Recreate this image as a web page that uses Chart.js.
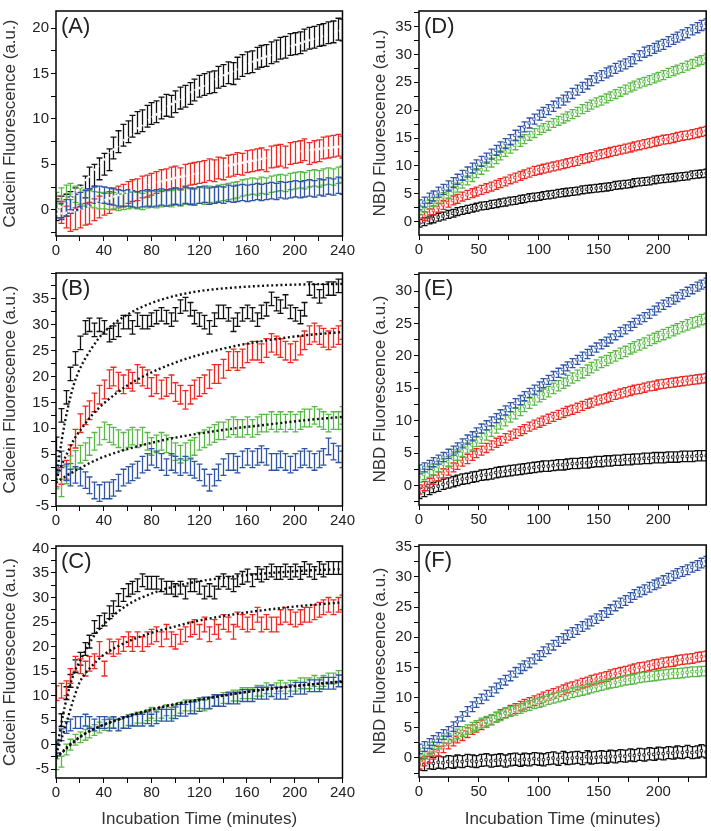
<!DOCTYPE html>
<html>
<head>
<meta charset="utf-8">
<script src="https://cdn.jsdelivr.net/npm/chart.js@4.4.1/dist/chart.umd.min.js"></script>
<style>
  html, body { margin: 0; padding: 0; background: #fff; }
  #fig { position: relative; width: 711px; height: 831px; overflow: hidden; }
  .panel { position: absolute; }
</style>
</head>
<body>
<div id="fig"></div>
<script>
// sampling times (minutes), shared by every series
const minutes = [0,4,8,12,16,20,24,28,32,36,40,44,48,52,56,60,64,68,72,76,80,84,88,92,96,100,104,108,112,116,120,124,128,132,136,140,144,148,152,156,160,164,168,172,176,180,184,188,192,196,200,204,208,212,216,220,224,228,232,236,240];
const fitMinutes = [0,5,10,15,20,30,40,60,80,100,120,150,180,210,240];

// series order in every panel: black, red, green, blue
const seriesColors = ["#111111", "#ee2a24", "#5ab946", "#2f55a4"];

// ---- panel A (calcein) ----
const blackA = [0,0.3,0.5,0.8,1.2,1.5,2.5,3.5,3.8,4.5,5,5.5,6.8,7.5,8.2,8.6,9.2,9.6,9.8,10.3,10.6,10.8,11.2,11.5,11.4,11.9,12.3,12.5,12.8,13.2,13.6,13.8,14.0,14.1,14.6,14.8,15.1,15.0,15.6,15.9,16.2,16.3,16.7,16.9,17.0,17.3,17.5,17.8,17.9,18.2,18.3,18.4,18.7,18.9,19.0,19.2,19.3,19.5,19.6,19.9,19.8];
const redA = [0.3,-0.3,-0.8,-1.2,-1.0,-0.8,-0.5,-0.4,0,0.3,0.6,0.8,1.2,1.4,1.6,1.9,2.1,2.2,2.5,2.6,2.8,3.0,3.2,3.3,3.5,3.6,3.4,3.8,3.9,4.0,4.1,4.2,4.4,4.3,4.6,4.5,4.8,4.9,5.1,5.0,5.3,5.4,5.5,5.6,5.4,5.8,5.9,6.0,5.8,6.2,6.3,6.4,6.6,6.2,6.4,6.5,6.8,6.9,7.0,7.1,6.9];
const greenA = [1.0,1.5,1.8,2.0,1.7,1.5,1.3,1.2,1.1,1.0,1.0,0.9,1.0,0.8,0.9,1.0,1.1,1.0,0.9,1.1,1.2,1.1,1.2,1.3,1.2,1.4,1.3,1.5,1.4,1.5,1.6,1.5,1.7,1.6,1.8,1.9,2.0,2.1,2.2,2.4,2.5,2.6,2.5,2.7,2.6,2.8,2.9,3.0,2.9,3.1,3.2,3.3,3.2,3.4,3.5,3.4,3.6,3.7,3.6,3.8,3.9];
const blueA = [0,-0.2,0.2,0.5,0.8,1.0,1.2,1.4,1.6,1.7,1.6,1.5,1.4,1.3,1.2,1.3,1.2,1.1,1.2,1.3,1.2,1.3,1.4,1.3,1.4,1.5,1.4,1.6,1.5,1.4,1.6,1.7,1.5,1.6,1.7,1.6,1.8,1.7,1.8,1.9,1.8,1.9,2.0,1.9,2.0,2.1,2.0,2.2,2.1,2.2,2.3,2.2,2.3,2.4,2.3,2.5,2.4,2.6,2.5,2.7,2.6];
const errA = [1.2, 1.2, 0.9, 0.9];
const fitBlackA = [0,0.4,0.9,1.7,2.5,4,5.5,8,10.1,11.9,13.4,15.4,17.1,18.6,19.8];
const fitRedA = [-0.5,-0.4,-0.3,-0.1,0.1,0.5,1,2,2.8,3.5,4.1,5,5.8,6.5,7.0];

// ---- panel B ----
const blackB = [7,12.5,16,20.5,23.5,26.5,29.5,30,29,30,29.5,28,28.5,29,30.5,30.5,29.5,31,30.5,30.5,31,31.5,32,31.5,31,32,33.5,34,33,31.5,31,30.5,29.5,31,32.5,32.5,32,30,31,32,32.5,32,31,32.5,33,35,34,33.5,34.5,32.5,32,31.5,33,37,36.5,35.5,36.5,37,37,37.5,37.5];
const redB = [0.5,1,2,5,8,11,12.5,13.5,15,16.5,17.5,19.5,20,19,18.5,19.5,19,20.5,20,19.5,18,18.5,17.5,18,18.5,17,16.5,15.5,16.5,17.5,18,18.5,19.5,20.5,20.5,21.5,23,23.5,23,23.5,24.5,25,25,24.5,25.5,26.5,26,25.5,25,24.5,25,26,27,28,28.5,28,27.5,27,27.5,28,29];
const greenB = [0,-1.5,1,3,4,5,5.5,6.5,7.5,8.5,9.5,9,8.5,8,7.5,8,8.5,8,8.5,7.5,6.5,7,7.5,7,6.5,5.5,5,5.5,6,6.5,7.5,8,8.5,9,9.5,9.5,10,10.5,10,10,10.5,10,10.5,11,11,11.5,11,11.5,11,11.5,11,11.5,12,12,12.5,12,11.5,11,11.5,11.5,12.5];
const blueB = [3,4,1.5,0.5,1,0.5,0,-1,-2,-2.5,-2,-2,-1.5,-0.5,0.5,1,1.5,2,3,3.5,4.5,4,3.5,2.5,3.5,3,2.5,3,2.5,2,1.5,0.5,-0.5,0.5,1.5,2.5,3.5,3.5,3,4,4.5,4,4.5,5,4.5,3.5,3.5,4,3.5,3,3.5,4,4.5,4,3.5,4,4.5,6.5,5.5,5,4];
const errB = [1.3, 1.8, 1.7, 1.6];
const fitBlackB = [0,8,14,18.5,21.5,25.5,28.5,32,34.2,35.6,36.5,37.2,37.6,37.8,37.9];
const fitRedB = [0,3,5.5,7.8,9.5,12.5,14.8,18.3,20.8,22.7,24.2,25.9,27.1,28,28.6];
const fitGreenB = [-0.5,0.3,1,1.7,2.3,3.5,4.5,6,7.2,8.2,9,10,10.8,11.6,12.2];

// ---- panel C ----
const blackC = [-1,5,10.5,13,16,17.5,19.5,21,24,25,25.5,27,28,29.5,30.5,31.5,32,32.5,33.5,33,33,33,32.5,32,32,31.5,32,31,32.5,32.5,32,31,31.5,31,33,33.5,33,32.5,33.5,34,34.5,33.5,35,34.5,35,35.5,35,35,35.5,35,35.5,35,36,35.5,35,36,35.5,36,36,36,36];
const redC = [10.5,11,11.5,14,16.5,16,15.5,16.5,17,19.5,15.5,20,19.5,20,20.5,21.5,20.5,21.5,20.5,21.5,22,22.5,21.5,23,21.5,21,22,22.5,23.5,24,23,24.5,22.5,24,23,25,24.5,23,25.5,25,24.5,25,26.5,24.5,25,24.5,24.5,26,26.5,26,25.5,26,26.5,26.5,27,27.5,28,28.5,28,28.5,29];
const greenC = [-4,-3.5,-1,0,1,1.5,2,2.5,3,3.5,4,4.5,4.5,4,4.5,5,5,5.5,5.5,6,6.5,6,6.5,7,6.5,7,7.5,8,8,8,8.5,8,8.5,9,9,9.5,9.5,10,10,10.5,10.5,10.5,11,11,11.5,11,11.5,12,11.5,12,12,12.5,12.5,12.5,13,12.5,13,13.5,13.5,14,14];
const blueC = [-0.5,2,3.5,4,4.5,4.5,5,4.5,4,4.5,4.5,4,4.5,4,4.5,4.5,5,5,5,5.5,5,5.5,6,6,6,6.5,7,7,7.5,7.5,8,8.5,8.5,9,9,9,9.5,9.5,9.5,10,10,10,10.5,10.5,10.5,11,10.5,10.5,10.5,11,11.5,11.5,11.5,12,12,12,12.5,12.5,12.5,13,13];
const errC = [1.3, 1.5, 1.1, 1.2];
const fitBlackC = [-2,5,10.5,14.5,17,21.5,24.5,28.5,30.8,32.3,33.3,34.3,35,35.5,35.8];
const fitRedC = [-2,1.5,5.5,9.5,12.8,16,18.3,21,22.8,24.1,25.3,26.6,27.6,28.4,29];
const fitGreenC = [-2.8,-1.7,-0.5,0.5,1.5,3,4,5.7,7.1,8.2,9.1,10.4,11.4,12.2,12.9];
const fitBlueC = [-2.5,-1.5,-0.3,0.7,1.6,3,4.1,5.8,7.2,8.3,9.2,10.4,11.4,12.2,12.8];

// ---- panel D (NBD) ----
const blackD = [-0.3,0.0,0.3,0.5,0.8,1.0,1.3,1.5,1.8,2.0,2.2,2.4,2.6,2.8,2.9,3.1,3.2,3.4,3.5,3.7,3.8,4.0,4.1,4.3,4.4,4.5,4.7,4.8,4.9,5.1,5.2,5.3,5.4,5.5,5.7,5.8,5.9,6.0,6.1,6.2,6.3,6.5,6.6,6.7,6.8,7.0,7.1,7.2,7.3,7.5,7.6,7.7,7.8,7.9,8.0,8.1,8.2,8.4,8.5,8.6,8.7];
const redD = [0.5,1.0,1.5,2.0,2.5,3.0,3.4,3.8,4.1,4.5,4.8,5.1,5.4,5.7,6.0,6.3,6.6,6.9,7.2,7.6,7.9,8.2,8.5,8.8,9.1,9.3,9.5,9.7,9.9,10.1,10.3,10.5,10.7,10.9,11.2,11.4,11.6,11.9,12.1,12.3,12.5,12.7,12.9,13.1,13.3,13.5,13.7,13.9,14.1,14.3,14.5,14.7,14.8,15.0,15.2,15.4,15.5,15.7,15.9,16.1,16.3];
const greenD = [2.0,2.5,3.0,3.5,4.0,4.4,4.9,5.5,6.1,6.8,7.4,8.0,8.7,9.3,9.9,10.6,11.2,11.9,12.5,13.1,13.7,14.3,14.8,15.4,15.9,16.4,16.8,17.2,17.7,18.1,18.5,18.9,19.3,19.7,20.2,20.6,21.0,21.4,21.7,22.1,22.5,22.9,23.3,23.7,24.1,24.4,24.8,25.1,25.4,25.7,26.0,26.3,26.7,27.0,27.3,27.6,28.0,28.3,28.7,29.0,29.3];
const blueD = [3.0,3.5,4.2,4.6,5.3,5.8,6.4,7.0,7.6,8.3,8.9,9.6,10.2,10.8,11.4,12.1,12.8,13.4,14.0,14.7,15.5,16.2,17.0,17.7,18.4,19.1,19.6,20.1,20.7,21.3,21.8,22.4,23.0,23.6,24.1,24.7,25.3,25.8,26.2,26.7,27.0,27.5,27.9,28.3,28.7,29.2,29.8,30.4,30.7,31.1,31.5,31.8,32.3,32.7,33.1,33.5,33.9,34.4,34.8,35.2,35.5];
const errD = [0.7, 0.8, 0.8, 0.9];

// ---- panel E ----
const blackE = [-1.2,-0.9,-0.6,-0.3,-0.1,0.2,0.4,0.6,0.8,1.0,1.1,1.3,1.4,1.6,1.7,1.8,2.0,2.1,2.2,2.3,2.4,2.5,2.6,2.7,2.8,2.9,3.0,3.0,3.1,3.2,3.2,3.3,3.4,3.4,3.5,3.5,3.6,3.7,3.7,3.8,3.8,3.9,3.9,4.0,4.0,4.1,4.1,4.2,4.2,4.3,4.3,4.3,4.4,4.4,4.4,4.5,4.5,4.5,4.6,4.6,4.6];
const redE = [-0.6,-0.1,0.4,0.9,1.4,1.9,2.3,2.8,3.2,3.7,4.1,4.6,5.0,5.4,5.8,6.2,6.6,6.9,7.3,7.7,8.0,8.4,8.7,9.1,9.4,9.7,10.0,10.3,10.6,10.9,11.2,11.5,11.7,12.0,12.3,12.6,12.8,13.1,13.3,13.5,13.7,14.0,14.2,14.4,14.6,14.8,14.9,15.1,15.3,15.4,15.6,15.7,15.8,15.9,16.0,16.1,16.2,16.3,16.4,16.5,16.6];
const greenE = [1.3,1.7,2.1,2.5,2.9,3.3,3.7,4.2,4.7,5.3,5.8,6.3,6.8,7.3,7.8,8.4,8.9,9.5,10.0,10.6,11.1,11.6,12.2,12.7,13.2,13.7,14.1,14.5,15.0,15.4,15.8,16.2,16.6,17.0,17.4,17.8,18.2,18.6,19.0,19.3,19.7,20.0,20.4,20.7,21.1,21.4,21.7,22.0,22.4,22.7,23.0,23.3,23.6,23.9,24.2,24.5,24.8,25.1,25.3,25.6,25.8];
const blueE = [2.5,2.8,3.2,3.6,4.0,4.4,4.9,5.4,5.9,6.5,7.1,7.6,8.2,8.8,9.3,9.9,10.4,11.0,11.6,12.1,12.7,13.2,13.8,14.3,14.8,15.3,15.8,16.3,16.9,17.4,17.9,18.4,18.9,19.4,19.9,20.3,20.8,21.3,21.8,22.2,22.7,23.2,23.7,24.1,24.6,25.1,25.6,26.0,26.5,27.0,27.5,27.9,28.3,28.7,29.1,29.5,29.9,30.3,30.7,31.0,31.3];
const errE = [0.8, 0.7, 0.8, 0.7];

// ---- panel F ----
const blackF = [-1.0,-1.1,-0.8,-0.9,-0.7,-0.8,-0.6,-0.7,-0.5,-0.6,-0.4,-0.5,-0.6,-0.4,-0.3,-0.5,-0.4,-0.3,-0.5,-0.3,-0.2,-0.4,-0.2,-0.3,-0.1,-0.2,-0.3,-0.1,0.0,-0.2,0.1,-0.1,0.0,0.1,-0.1,0.2,0.0,0.1,0.2,0.1,0.3,0.2,0.4,0.3,0.5,0.4,0.6,0.5,0.7,0.6,0.8,0.7,0.9,0.8,1.0,0.9,1.1,0.9,1.0,1.2,1.0];
const redF = [-1.0,-0.5,0.0,0.6,1.1,1.7,2.3,2.8,3.3,3.7,4.2,4.7,5.1,5.5,5.9,6.3,6.8,7.2,7.5,7.9,8.2,8.6,8.9,9.2,9.5,9.8,10.1,10.4,10.7,11.0,11.3,11.6,11.8,12.1,12.4,12.6,12.9,13.1,13.3,13.5,13.8,14.0,14.2,14.4,14.6,14.8,15.0,15.1,15.3,15.5,15.6,15.8,15.9,16.0,16.2,16.3,16.4,16.5,16.7,16.8,16.9];
const greenF = [0.3,0.8,1.3,1.8,2.3,2.8,3.2,3.6,4.0,4.4,4.7,5.1,5.4,5.8,6.1,6.4,6.7,7.0,7.4,7.7,7.9,8.2,8.5,8.7,9.0,9.2,9.4,9.7,9.9,10.1,10.3,10.5,10.8,11.0,11.2,11.4,11.6,11.8,12.0,12.2,12.4,12.5,12.7,12.9,13.0,13.1,13.3,13.4,13.5,13.6,13.7,13.8,13.9,14.0,14.0,14.1,14.2,14.3,14.3,14.4,14.4];
const blueF = [1.5,1.9,2.4,2.9,3.4,3.9,4.4,5.2,6.0,6.9,7.7,8.5,9.2,9.8,10.4,11.0,11.6,12.3,12.9,13.6,14.2,14.8,15.3,15.8,16.4,17.0,17.6,18.1,18.7,19.3,19.8,20.4,20.8,21.3,21.8,22.2,22.7,23.1,23.6,24.1,24.6,25.2,25.7,26.1,26.6,27.1,27.5,27.9,28.3,28.7,29.0,29.4,29.8,30.2,30.6,30.9,31.2,31.6,31.9,32.3,32.6];
const errF = [1.0, 0.8, 0.8, 0.8];

// tick labels
const xLabelsLeft = [0, 40, 80, 120, 160, 200, 240];
const xLabelsRight = [0, 50, 100, 150, 200];
const yLabelsA = [0, 5, 10, 15, 20];
const yLabelsB = [-5, 0, 5, 10, 15, 20, 25, 30, 35];
const yLabelsC = [-5, 0, 5, 10, 15, 20, 25, 30, 35, 40];
const yLabelsD = [0, 5, 10, 15, 20, 25, 30, 35];
const yLabelsE = [0, 5, 10, 15, 20, 25, 30];
const yLabelsF = [0, 5, 10, 15, 20, 25, 30, 35];

const FONT = "'Liberation Sans', Arial, Helvetica, sans-serif";
const calceinTitle = "Calcein Fluorescence (a.u.)";
const nbdTitle = "NBD Fluorescence (a.u.)";
const timeTitle = "Incubation Time (minutes)";

const panels = [
  { tag: "(A)", left: 0, top: 0, width: 356, height: 262, yW: 56, padT: 5, padR: 9, xH: 26,
    xStep: 20, xLabels: xLabelsLeft, yMin: -2.9, yMax: 21.9, yLabels: yLabelsA, yTitle: calceinTitle, titlePad: 0,
    series: [blackA, redA, greenA, blueA], err: errA, markers: false,
    fits: [{ y: fitBlackA, color: "#fff" }, { y: fitRedA, color: "#fff" }] },
  { tag: "(B)", left: 0, top: 262, width: 356, height: 268, yW: 56, padT: 11, padR: 9, xH: 24,
    xStep: 20, xLabels: xLabelsLeft, yMin: -5, yMax: 40, yLabels: yLabelsB, yTitle: calceinTitle, titlePad: 0,
    series: [blackB, redB, greenB, blueB], err: errB, markers: false,
    fits: [{ y: fitBlackB, color: "#111" }, { y: fitRedB, color: "#111" }, { y: fitGreenB, color: "#111" }] },
  { tag: "(C)", left: 0, top: 530, width: 356, height: 301, yW: 56, padT: 16, padR: 9, xH: 53,
    xStep: 20, xLabels: xLabelsLeft, yMin: -6.8, yMax: 40.5, yLabels: yLabelsC, yTitle: calceinTitle, titlePad: 0,
    xTitle: timeTitle,
    series: [blackC, redC, greenC, blueC], err: errC, markers: false,
    fits: [{ y: fitBlackC, color: "#111" }, { y: fitRedC, color: "#111" }, { y: fitGreenC, color: "#111" }, { y: fitBlueC, color: "#111" }] },
  { tag: "(D)", left: 360, top: 0, width: 351, height: 262, yW: 59, padT: 4, padR: 4, xH: 27,
    xStep: 25, xLabels: xLabelsRight, yMin: -2.4, yMax: 37.8, yLabels: yLabelsD, yTitle: nbdTitle, titlePad: 10,
    series: [blackD, redD, greenD, blueD], err: errD, markers: true, fits: [] },
  { tag: "(E)", left: 360, top: 262, width: 351, height: 268, yW: 59, padT: 11, padR: 4, xH: 25,
    xStep: 25, xLabels: xLabelsRight, yMin: -3.0, yMax: 32.8, yLabels: yLabelsE, yTitle: nbdTitle, titlePad: 10,
    series: [blackE, redE, greenE, blueE], err: errE, markers: true, fits: [] },
  { tag: "(F)", left: 360, top: 530, width: 351, height: 301, yW: 59, padT: 15, padR: 4, xH: 54,
    xStep: 25, xLabels: xLabelsRight, yMin: -3.15, yMax: 35.3, yLabels: yLabelsF, yTitle: nbdTitle, titlePad: 10,
    xTitle: timeTitle,
    series: [blackF, redF, greenF, blueF], err: errF, markers: true, fits: [] }
];

// vertical error bars with caps, drawn just under each dataset's markers
const errorBars = {
  id: "errorBars",
  beforeDatasetDraw(chart, args) {
    const ds = chart.data.datasets[args.index];
    if (ds.err == null) return;
    const ys = chart.scales.y;
    const area = chart.chartArea;
    const ctx = chart.ctx;
    const cap = 3;
    ctx.save();
    ctx.beginPath();
    ctx.rect(area.left, area.top, area.right - area.left, area.bottom - area.top);
    ctx.clip();
    ctx.strokeStyle = ds.borderColor;
    ctx.lineWidth = 1.3;
    ctx.beginPath();
    args.meta.data.forEach(function (pt, i) {
      const v = ds.data[i].y;
      const hi = ys.getPixelForValue(v + ds.err);
      const lo = ys.getPixelForValue(v - ds.err);
      const x = Math.round(pt.x) + 0.5;
      ctx.moveTo(x, hi); ctx.lineTo(x, lo);
      ctx.moveTo(x - cap, hi); ctx.lineTo(x + cap, hi);
      ctx.moveTo(x - cap, lo); ctx.lineTo(x + cap, lo);
    });
    ctx.stroke();
    ctx.restore();
  }
};

// box frame and the panel letter
const frame = {
  id: "frame",
  afterDraw(chart) {
    const a = chart.chartArea;
    const ctx = chart.ctx;
    ctx.save();
    ctx.strokeStyle = "#000";
    ctx.lineWidth = 1.5;
    ctx.strokeRect(a.left, a.top, a.right - a.left, a.bottom - a.top);
    ctx.fillStyle = "#222";
    ctx.font = "22px " + FONT;
    ctx.textBaseline = "top";
    ctx.fillText(chart.options.plugins.frame.tag, a.left + 5, a.top + 5);
    ctx.restore();
  }
};

function hasLabel(list, v) {
  return list.some(function (l) { return Math.abs(l - v) < 1e-6; });
}

const fig = document.getElementById("fig");

panels.forEach(function (p) {
  const div = document.createElement("div");
  div.className = "panel";
  div.style.left = p.left + "px";
  div.style.top = p.top + "px";
  const canvas = document.createElement("canvas");
  canvas.width = p.width;
  canvas.height = p.height;
  canvas.style.width = p.width + "px";
  canvas.style.height = p.height + "px";
  div.appendChild(canvas);
  fig.appendChild(div);

  const datasets = [];
  p.fits.forEach(function (f) {
    datasets.push({
      data: f.y.map(function (v, i) { return { x: fitMinutes[i], y: v }; }),
      showLine: true,
      borderColor: f.color,
      borderWidth: 2.4,
      borderDash: [2, 2.6],
      pointRadius: 0,
      cubicInterpolationMode: "monotone",
      fill: false,
      order: 0
    });
  });
  p.series.forEach(function (s, k) {
    datasets.push({
      data: minutes.map(function (m, i) { return { x: m, y: s[i] }; }),
      err: p.err[k],
      borderColor: seriesColors[k],
      pointBorderColor: seriesColors[k],
      pointBackgroundColor: "#fff",
      pointStyle: "rect",
      pointRadius: p.markers ? 1.7 : 0,
      pointBorderWidth: 0.8,
      showLine: false,
      order: 4 - k
    });
  });

  const tickFont = { family: FONT, size: 15 };
  const titleFont = { family: FONT, size: 17 };

  new Chart(canvas, {
    type: "scatter",
    data: { datasets: datasets },
    plugins: [errorBars, frame],
    options: {
      responsive: false,
      animation: false,
      devicePixelRatio: 1,
      layout: { padding: { top: p.padT, right: p.padR, left: 0, bottom: 0 } },
      plugins: {
        legend: { display: false },
        tooltip: { enabled: false },
        frame: { tag: p.tag }
      },
      scales: {
        x: {
          type: "linear",
          min: 0,
          max: 240,
          afterFit: function (s) { s.height = p.xH; },
          border: { display: false },
          grid: { drawOnChartArea: false, drawTicks: true, tickLength: 5, color: "#000", lineWidth: 1 },
          ticks: {
            stepSize: p.xStep,
            autoSkip: false,
            maxRotation: 0,
            includeBounds: false,
            padding: 1,
            color: "#222",
            font: tickFont,
            callback: function (v) { return hasLabel(p.xLabels, v) ? String(v) : ""; }
          },
          title: p.xTitle
            ? { display: true, text: p.xTitle, color: "#333", font: titleFont, padding: { top: 0, bottom: 1 } }
            : { display: false }
        },
        y: {
          type: "linear",
          min: p.yMin,
          max: p.yMax,
          afterFit: function (s) { s.width = p.yW; },
          border: { display: false },
          grid: { drawOnChartArea: false, drawTicks: true, tickLength: 5, color: "#000", lineWidth: 1 },
          ticks: {
            stepSize: 2.5,
            autoSkip: false,
            includeBounds: false,
            padding: 2,
            color: "#222",
            font: tickFont,
            callback: function (v) { return hasLabel(p.yLabels, v) ? String(v) : ""; }
          },
          title: { display: true, text: p.yTitle, color: "#333", font: titleFont, padding: { top: p.titlePad, bottom: 0 } }
        }
      }
    }
  });
});
</script>
</body>
</html>
